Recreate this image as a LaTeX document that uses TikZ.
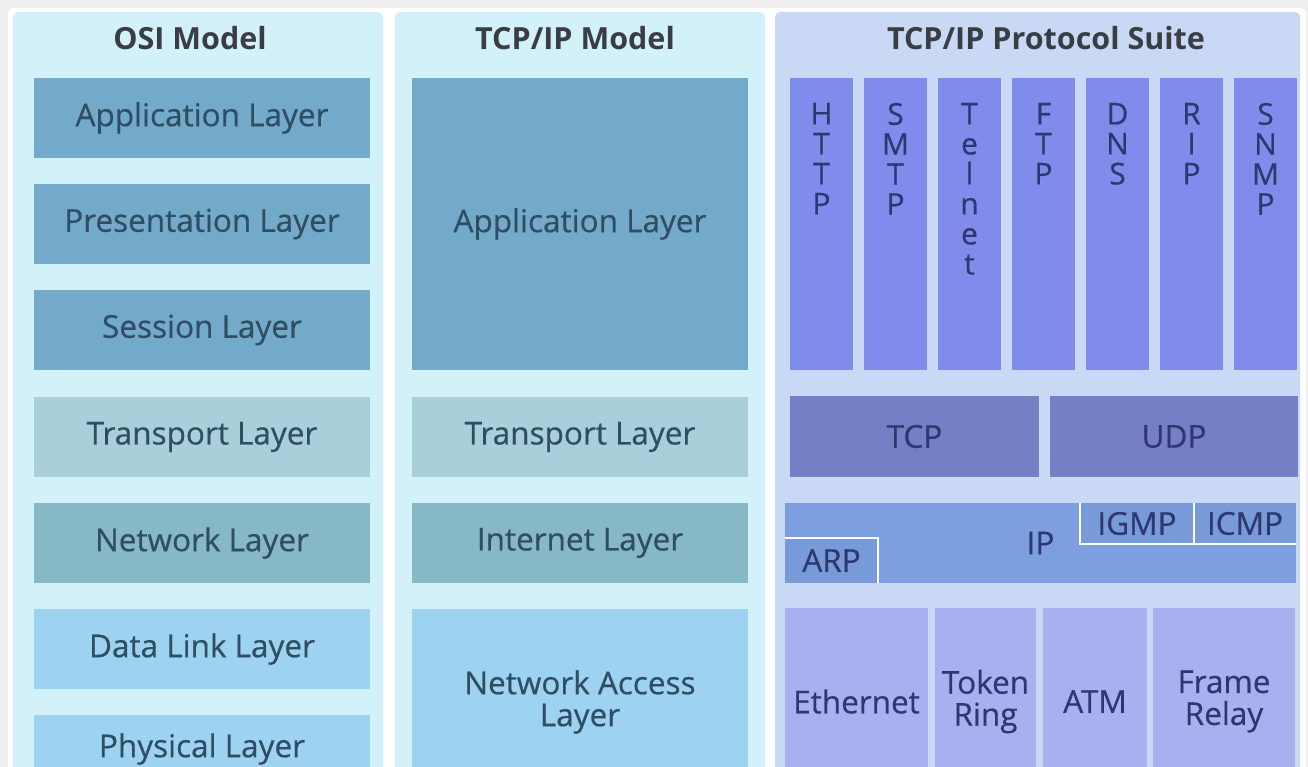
\documentclass[tikz,border=0pt]{standalone}
\usepackage{fontspec}
\setmainfont{Open Sans}
\newfontfamily\boxfont{Open Sans}[FakeBold=0.5]
\usepackage{tikz}
\usetikzlibrary{positioning}

\definecolor{pagegray}{HTML}{EFEFEF}
\definecolor{modelbg}{HTML}{D3F1F8}
\definecolor{suitebg}{HTML}{C9D8F5}
\definecolor{upperblue}{HTML}{74AAC9}
\definecolor{transgray}{HTML}{A9D0DA}
\definecolor{netteal}{HTML}{87B8C6}
\definecolor{linkblue}{HTML}{9DD3F1}
\definecolor{appviolet}{HTML}{7F8CEC}
\definecolor{transviolet}{HTML}{747FC6}
\definecolor{ipblue}{HTML}{7E9FDF}
\definecolor{ipside}{HTML}{799AD9}
\definecolor{linkviolet}{HTML}{A8B1F0}
\definecolor{layertext}{HTML}{2F4E63}
\definecolor{prototext}{HTML}{2E3870}
\definecolor{headtext}{HTML}{3A3E44}

\begin{document}
\begin{tikzpicture}
            [every node/.style={inner sep=0pt, font=\boxfont\fontsize{31.5}{32}\selectfont},
             panel/.style={rectangle, rounded corners=5pt, minimum height=788pt},
             heading/.style={font=\fontsize{30.5}{31}\selectfont\bfseries, text=headtext},
             layer/.style={rectangle, minimum width=336pt, minimum height=80pt, align=center, text=layertext},
             protocol/.style={rectangle, align=center, text=prototext},
             letters/.style={align=center, text=prototext, font=\boxfont\fontsize{30}{30}\selectfont}]
                \useasboundingbox (0pt, 0pt) rectangle (1308pt, -767pt);
                \clip (0pt, 0pt) rectangle (1308pt, -767pt);
                \fill [pagegray] (0pt, 0pt) rectangle (1308pt, -767pt);
                \fill [white, rounded corners=6pt] (8pt, -8pt) rectangle (1306pt, -810pt);
                % the three columns
                \node (osipanel) [panel, minimum width=370pt, fill=modelbg] at (198pt, -406pt) {};
                \node (tcppanel) [panel, minimum width=370pt, fill=modelbg] at (580pt, -406pt) {};
                \node (suitepanel) [panel, minimum width=525pt, fill=suitebg] at (1037.5pt, -406pt) {};
                \node (osihead) [heading] at (190pt, -38pt) {OSI Model};
                \node (tcphead) [heading] at (575pt, -38pt) {TCP/IP Model};
                \node (suitehead) [heading] at (1046pt, -38pt) {TCP/IP Protocol Suite};
                % OSI model
                \node (osiapp) [layer, fill=upperblue] at (202pt, -118pt) {Application Layer};
                \node (osipres) [layer, fill=upperblue] at (202pt, -224pt) {Presentation Layer};
                \node (osisess) [layer, fill=upperblue] at (202pt, -330pt) {Session Layer};
                \node (ositrans) [layer, fill=transgray] at (202pt, -437pt) {Transport Layer};
                \node (osinet) [layer, fill=netteal] at (202pt, -543pt) {Network Layer};
                \node (osidl) [layer, fill=linkblue] at (202pt, -649pt) {Data Link Layer};
                \node (osiphy) [layer, minimum height=68pt, fill=linkblue] at (202pt, -749pt) {Physical Layer};
                % TCP/IP model
                \node (tcpapp) [layer, minimum height=292pt, fill=upperblue] at (580pt, -224pt) {Application Layer};
                \node (tcptrans) [layer, fill=transgray] at (580pt, -437pt) {Transport Layer};
                \node (tcpinet) [layer, fill=netteal] at (580pt, -543pt) {Internet Layer};
                \node (tcpnacc) [layer, minimum height=186pt, fill=linkblue] at (580pt, -702pt) {Network Access\\Layer};
                % application protocols
                \node (http) [protocol, minimum width=63pt, minimum height=292pt, fill=appviolet] at (821.5pt, -224pt) {};
                \node (smtp) [protocol, minimum width=63pt, minimum height=292pt, fill=appviolet] at (895.5pt, -224pt) {};
                \node (telnet) [protocol, minimum width=63pt, minimum height=292pt, fill=appviolet] at (969.5pt, -224pt) {};
                \node (ftp) [protocol, minimum width=63pt, minimum height=292pt, fill=appviolet] at (1043.5pt, -224pt) {};
                \node (dns) [protocol, minimum width=63pt, minimum height=292pt, fill=appviolet] at (1117.5pt, -224pt) {};
                \node (rip) [protocol, minimum width=63pt, minimum height=292pt, fill=appviolet] at (1191.5pt, -224pt) {};
                \node (snmp) [protocol, minimum width=63pt, minimum height=292pt, fill=appviolet] at (1265.5pt, -224pt) {};
                \node (httptext) [letters, below=25pt of http.north] {H\\T\\T\\P};
                \node (smtptext) [letters, below=25pt of smtp.north] {S\\M\\T\\P};
                \node (telnettext) [letters, below=25pt of telnet.north] {T\\e\\l\\n\\e\\t};
                \node (ftptext) [letters, below=25pt of ftp.north] {F\\T\\P};
                \node (dnstext) [letters, below=25pt of dns.north] {D\\N\\S};
                \node (riptext) [letters, below=25pt of rip.north] {R\\I\\P};
                \node (snmptext) [letters, below=25pt of snmp.north] {S\\N\\M\\P};
                % transport and internet
                \node (tcp) [protocol, minimum width=249pt, minimum height=81pt, fill=transviolet] at (914.5pt, -436.5pt) {TCP};
                \node (udp) [protocol, minimum width=248pt, minimum height=81pt, fill=transviolet] at (1174pt, -436.5pt) {UDP};
                \node (ip) [protocol, minimum width=511pt, minimum height=80pt, fill=ipblue] at (1040.5pt, -543pt) {IP};
                \node (igmp) [protocol, minimum width=114pt, minimum height=41pt, fill=ipside] at (1137pt, -523.5pt) {IGMP};
                \node (icmp) [protocol, minimum width=102pt, minimum height=41pt, fill=ipside] at (1245pt, -523.5pt) {ICMP};
                \node (arp) [protocol, minimum width=93pt, minimum height=45pt, fill=ipside] at (831.5pt, -560.5pt) {ARP};
                \draw [white, line width=2pt] (igmp.north west) -- (igmp.south west) -- (icmp.south east);
                \draw [white, line width=2pt] (igmp.north east) -- (igmp.south east);
                \draw [white, line width=2pt] (arp.north west) -- (arp.north east) -- (arp.south east);
                % link technologies
                \node (ethernet) [protocol, minimum width=143pt, minimum height=187pt, fill=linkviolet] at (856.5pt, -701.5pt) {Ethernet};
                \node (tokenring) [protocol, minimum width=101pt, minimum height=187pt, fill=linkviolet] at (985.5pt, -701.5pt) {Token\\Ring};
                \node (atm) [protocol, minimum width=104pt, minimum height=187pt, fill=linkviolet] at (1095pt, -701.5pt) {ATM};
                \node (framerelay) [protocol, minimum width=142pt, minimum height=187pt, fill=linkviolet] at (1224pt, -701.5pt) {Frame\\Relay};
            \end{tikzpicture}
\end{document}
